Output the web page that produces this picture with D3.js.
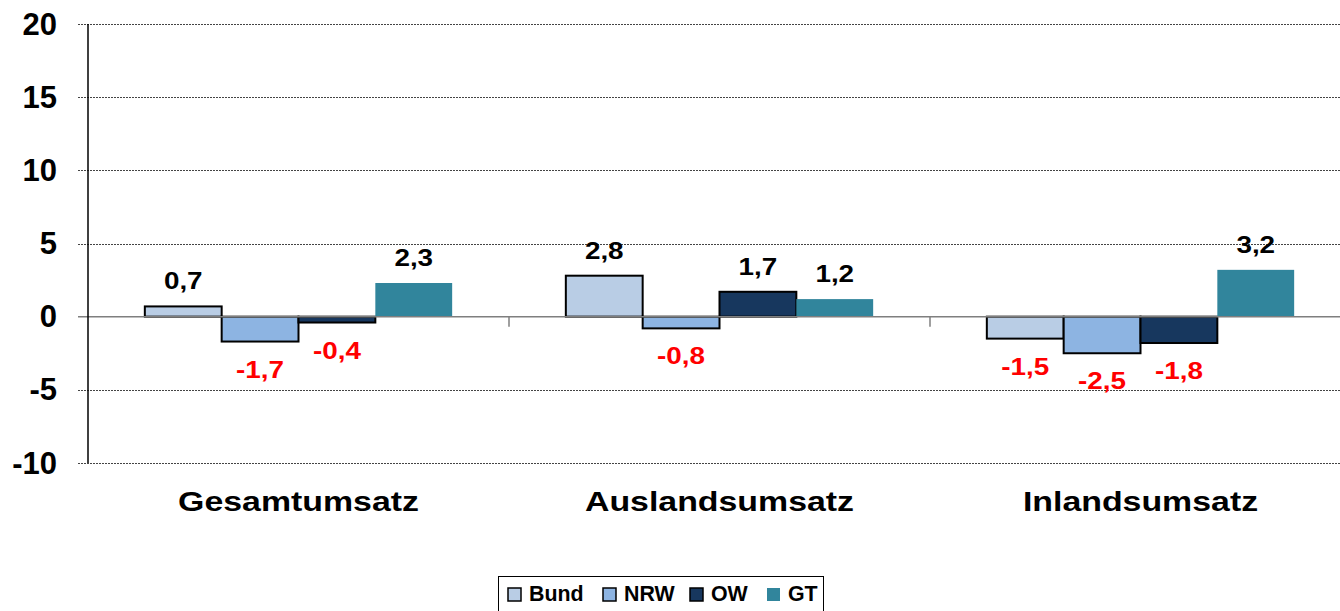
<!DOCTYPE html>
<html>
<head>
<meta charset="utf-8">
<script src="https://cdn.jsdelivr.net/npm/d3@7"></script>
<style>
  html, body { margin: 0; padding: 0; background: #fff; }
  svg { display: block; font-family: "Liberation Sans", Arial, sans-serif; }
</style>
</head>
<body>
<svg id="chart" width="1340" height="611"></svg>
<script>
const categories = ["Gesamtumsatz", "Auslandsumsatz", "Inlandsumsatz"];
const seriesNames = ["Bund", "NRW", "OW", "GT"];
const bund = [0.7, 2.8, -1.5];
const nrw  = [-1.7, -0.8, -2.5];
const ow   = [-0.4, 1.7, -1.8];
const gt   = [2.3, 1.2, 3.2];
const yTicks = [-10, -5, 0, 5, 10, 15, 20];
const colors = ["#B9CDE5", "#8DB4E2", "#17375E", "#31859C"];
const strokes = ["#000", "#000", "#000", "none"];

(function () {
const seriesValues = [bund, nrw, ow, gt];
const data = categories.map((c, i) => ({
  cat: c,
  vals: seriesNames.map((s, j) => ({ s, j, v: seriesValues[j][i] }))
}));
const fmt = v => v.toFixed(1).replace(".", ",");

const svg = d3.select("#chart");
const pLeft = 88, pRight = 1351, pTop = 24, pBottom = 463;

const y = d3.scaleLinear().domain([-10, 20]).range([pBottom, pTop]);
const x0 = d3.scaleBand().domain(categories).range([pLeft, pRight]).padding(0);
const bw = x0.bandwidth();
const x1 = d3.scaleBand().domain(seriesNames).range([bw * 0.135, bw * 0.865]).padding(0);

// gridlines
svg.append("g").selectAll("line").data(yTicks.filter(t => t !== 0)).join("line")
  .attr("x1", pLeft - 10).attr("x2", 1340)
  .attr("y1", d => Math.round(y(d)) + 0.5).attr("y2", d => Math.round(y(d)) + 0.5)
  .attr("stroke", "#444").attr("stroke-width", 1).attr("stroke-dasharray", "2,1");

// y tick labels
svg.append("g").selectAll("text").data(yTicks).join("text")
  .attr("transform", d => `translate(57,${y(d)})`)
  .attr("text-anchor", "end").attr("dominant-baseline", "central")
  .attr("font-size", 31).attr("font-weight", "bold").attr("fill", "#000")
  .text(d => String(d));

// bars
const groups = svg.append("g").selectAll("g").data(data).join("g")
  .attr("transform", d => `translate(${x0(d.cat)},0)`);

groups.selectAll("rect").data(d => d.vals).join("rect")
  .attr("x", d => x1(d.s))
  .attr("width", x1.bandwidth())
  .attr("y", d => y(Math.max(0, d.v)))
  .attr("height", d => Math.abs(y(d.v) - y(0)))
  .attr("fill", d => colors[d.j])
  .attr("stroke", d => strokes[d.j])
  .attr("stroke-width", 2);

// zero line
svg.append("line").attr("x1", pLeft - 10).attr("x2", 1340)
  .attr("y1", y(0)).attr("y2", y(0))
  .attr("stroke", "#7f7f7f").attr("stroke-width", 1.5);

// category ticks
svg.append("g").selectAll("line").data(categories.slice(1)).join("line")
  .attr("x1", d => x0(d)).attr("x2", d => x0(d))
  .attr("y1", y(0)).attr("y2", y(0) + 10)
  .attr("stroke", "#7f7f7f").attr("stroke-width", 1.5);

// y axis
svg.append("line").attr("x1", pLeft).attr("x2", pLeft)
  .attr("y1", pTop).attr("y2", pBottom)
  .attr("stroke", "#000").attr("stroke-width", 1.5);

// value labels
groups.selectAll("text.val").data(d => d.vals).join("text")
  .attr("class", "val")
  .attr("transform", d => {
    const cx = x1(d.s) + x1.bandwidth() / 2;
    const yy = d.v >= 0 ? y(d.v) - 17 : y(d.v) + 36;
    return `translate(${cx},${yy}) scale(1.16,1)`;
  })
  .attr("text-anchor", "middle")
  .attr("font-size", 24).attr("font-weight", "bold")
  .attr("fill", d => d.v < 0 ? "#FF0000" : "#000")
  .text(d => fmt(d.v));

// category labels
svg.append("g").selectAll("text").data(categories).join("text")
  .attr("transform", d => `translate(${x0(d) + bw / 2},511) scale(1.21,1)`)
  .attr("text-anchor", "middle")
  .attr("font-size", 28).attr("font-weight", "bold").attr("fill", "#000")
  .text(d => d);

// legend
const lg = svg.append("g");
lg.append("rect").attr("x", 498.5).attr("y", 576.5).attr("width", 325).attr("height", 45)
  .attr("fill", "#fff").attr("stroke", "#000").attr("stroke-width", 1);
const legX = [508, 603, 690, 767];
seriesNames.forEach((s, j) => {
  lg.append("rect").attr("x", legX[j]).attr("y", 588).attr("width", 13).attr("height", 13)
    .attr("fill", colors[j]).attr("stroke", strokes[j]).attr("stroke-width", 1.5);
  lg.append("text").attr("transform", `translate(${legX[j] + 21},601) scale(0.93,1)`)
    .attr("font-size", 23).attr("font-weight", "bold").attr("fill", "#000")
    .text(s);
});
})();
</script>
</body>
</html>
